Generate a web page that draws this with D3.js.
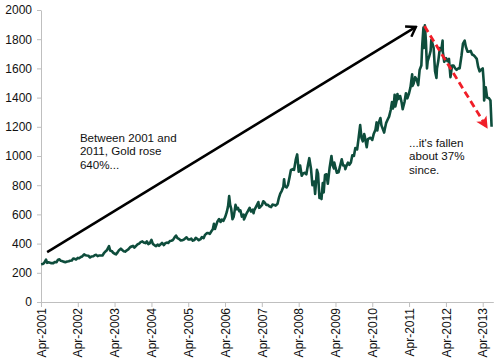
<!DOCTYPE html>
<html><head><meta charset="utf-8">
<script src="https://cdn.jsdelivr.net/npm/d3@7"></script>
<style>
body{margin:0;background:#fff;}
svg text{font-family:"Liberation Sans",Arial,sans-serif;}
</style>
</head><body>
<svg id="chart" width="500" height="363"></svg>
<script>
// ---- data (gold price, USD/oz) ----
const dates = [
"2001-04-02","2001-04-16","2001-05-01","2001-05-21","2001-06-01","2001-06-15","2001-07-02","2001-07-16","2001-08-01","2001-08-15","2001-09-03","2001-09-17","2001-10-01","2001-10-15","2001-11-01","2001-11-15","2001-12-03","2001-12-17",
"2002-01-02","2002-01-15","2002-02-01","2002-02-15","2002-03-01","2002-03-15","2002-04-01","2002-04-15","2002-05-01","2002-05-15","2002-06-03","2002-06-17","2002-07-01","2002-07-15","2002-08-01","2002-08-15","2002-09-02","2002-09-16","2002-10-01","2002-10-15","2002-11-01","2002-11-15","2002-12-02","2002-12-16",
"2003-01-02","2003-01-15","2003-02-05","2003-02-17","2003-03-03","2003-03-17","2003-04-01","2003-04-15","2003-05-01","2003-05-15","2003-06-02","2003-06-16","2003-07-01","2003-07-15","2003-08-01","2003-08-15","2003-09-02","2003-09-16","2003-10-01","2003-10-15","2003-11-03","2003-11-17","2003-12-01","2003-12-15",
"2004-01-02","2004-01-15","2004-02-02","2004-02-16","2004-03-01","2004-03-15","2004-04-01","2004-04-15","2004-05-03","2004-05-17","2004-06-01","2004-06-15","2004-07-01","2004-07-15","2004-08-02","2004-08-16","2004-09-01","2004-09-15","2004-10-01","2004-10-15","2004-11-01","2004-11-15","2004-12-01","2004-12-15",
"2005-01-03","2005-01-17","2005-02-01","2005-02-15","2005-03-01","2005-03-15","2005-04-01","2005-04-15","2005-05-02","2005-05-16","2005-06-01","2005-06-15","2005-07-01","2005-07-15","2005-08-01","2005-08-15","2005-09-01","2005-09-15","2005-10-03","2005-10-17","2005-11-01","2005-11-15","2005-12-01","2005-12-12","2005-12-22",
"2006-01-03","2006-01-16","2006-02-01","2006-02-15","2006-03-01","2006-03-15","2006-04-03","2006-04-18","2006-05-01","2006-05-12","2006-05-22","2006-06-01","2006-06-14","2006-06-26","2006-07-03","2006-07-14","2006-07-28","2006-08-07","2006-08-21","2006-09-01","2006-09-15","2006-10-02","2006-10-06","2006-10-16","2006-11-01","2006-11-15","2006-12-01","2006-12-15",
"2007-01-02","2007-01-09","2007-01-15","2007-02-01","2007-02-26","2007-03-05","2007-03-15","2007-04-02","2007-04-16","2007-05-01","2007-05-15","2007-06-01","2007-06-15","2007-07-02","2007-07-16","2007-08-01","2007-08-16","2007-09-04","2007-09-17","2007-10-01","2007-10-15","2007-11-01","2007-11-08","2007-11-15","2007-12-03","2007-12-17",
"2008-01-02","2008-01-15","2008-02-01","2008-02-15","2008-03-03","2008-03-17","2008-03-26","2008-04-01","2008-04-15","2008-05-01","2008-05-15","2008-06-02","2008-06-16","2008-07-01","2008-07-15","2008-08-01","2008-08-15","2008-09-01","2008-09-11","2008-09-29","2008-10-10","2008-10-24","2008-11-03","2008-11-13","2008-11-26","2008-12-05","2008-12-18",
"2009-01-02","2009-01-15","2009-02-02","2009-02-20","2009-03-02","2009-03-17","2009-03-20","2009-04-01","2009-04-15","2009-05-01","2009-05-15","2009-06-02","2009-06-16","2009-07-01","2009-07-08","2009-07-15","2009-08-03","2009-08-17","2009-09-01","2009-09-15","2009-10-01","2009-10-15","2009-11-02","2009-11-16","2009-12-02","2009-12-15","2009-12-28",
"2010-01-11","2010-01-15","2010-02-05","2010-02-16","2010-03-01","2010-03-15","2010-04-01","2010-04-15","2010-05-03","2010-05-14","2010-05-21","2010-06-01","2010-06-21","2010-07-01","2010-07-28","2010-08-02","2010-08-16","2010-09-01","2010-09-15","2010-10-01","2010-10-14","2010-10-22","2010-11-01","2010-11-09","2010-11-16","2010-12-01","2010-12-07","2010-12-15","2010-12-31",
"2011-01-03","2011-01-18","2011-01-28","2011-02-15","2011-03-01","2011-03-15","2011-04-01","2011-04-15","2011-05-02","2011-05-05","2011-05-16","2011-06-01","2011-06-15","2011-07-01","2011-07-15","2011-08-01","2011-08-10","2011-08-22","2011-08-25","2011-09-05","2011-09-15","2011-09-26","2011-10-03","2011-10-17","2011-11-01","2011-11-08","2011-11-15","2011-12-01","2011-12-15","2011-12-29",
"2012-01-03","2012-01-16","2012-02-01","2012-02-15","2012-02-28","2012-03-01","2012-03-15","2012-04-02","2012-04-16","2012-05-01","2012-05-16","2012-06-01","2012-06-15","2012-07-02","2012-07-16","2012-08-01","2012-08-15","2012-09-03","2012-09-17","2012-10-04","2012-10-15","2012-11-01","2012-11-15","2012-12-03","2012-12-17",
"2013-01-02","2013-01-15","2013-02-01","2013-02-15","2013-03-01","2013-03-15","2013-04-01","2013-04-12","2013-04-15","2013-04-22","2013-05-01","2013-05-15","2013-06-03","2013-06-17","2013-06-28"
];
const prices = [
258,260,266,290,268,272,268,266,266,274,273,290,292,282,279,275,273,277,
279,283,284,298,296,291,302,300,308,312,326,320,318,317,305,312,313,320,323,314,319,318,319,334,
347,355,382,352,350,338,330,326,340,355,365,356,348,345,354,360,375,380,384,373,386,396,400,410,
415,408,403,415,397,402,425,398,388,382,393,385,395,405,390,402,407,404,418,420,425,441,455,437,
430,422,423,427,435,443,428,428,434,420,425,440,432,423,430,445,438,460,472,472,467,483,498,536,500,
525,552,568,548,565,555,583,615,655,725,665,640,567,585,614,665,635,645,622,627,585,599,565,580,607,624,645,620,
632,608,627,650,685,645,650,663,690,680,665,665,655,650,667,665,660,673,712,743,760,790,841,795,785,803,
857,905,910,905,975,1011,940,893,935,865,880,885,875,935,985,913,800,825,740,905,880,712,740,705,815,750,870,
875,810,920,1000,940,915,955,920,885,888,925,978,935,935,910,925,955,940,955,1005,1000,1055,1045,1120,1212,1125,1100,
1150,1140,1060,1115,1120,1125,1110,1150,1180,1230,1175,1220,1260,1210,1160,1180,1225,1250,1270,1315,1370,1325,1350,1420,1340,1385,1425,1390,1410,
1410,1365,1320,1370,1430,1395,1430,1470,1560,1480,1495,1540,1525,1485,1590,1620,1760,1880,1740,1895,1790,1600,1650,1680,1720,1795,1780,1740,1580,1535,
1600,1650,1740,1725,1790,1715,1645,1670,1650,1665,1540,1620,1620,1600,1590,1600,1600,1690,1770,1790,1750,1715,1715,1720,1695,
1690,1680,1665,1610,1580,1590,1600,1500,1380,1420,1470,1400,1395,1380,1200
];
const xTickDates = ["2001-04-01","2002-04-01","2003-04-01","2004-04-01","2005-04-01","2006-04-01","2007-04-01","2008-04-01","2009-04-01","2010-04-01","2011-04-01","2012-04-01","2013-04-01"];
const xDomain = ["2001-04-01","2013-07-15"];
const yTicks = [0,200,400,600,800,1000,1200,1400,1600,1800,2000];
const riseArrow = [["2001-06-01",342],["2011-06-08",1884]];
const fallArrow = [["2011-09-01",1890],["2013-05-15",1192]];
const riseText = {at:["2002-04-22",1096], lines:["Between 2001 and","2011, Gold rose","640%..."]};
const fallText = {at:["2011-04-01",1062], lines:["...it's fallen","about 37%","since."]};

// ---- drawing ----
const parse = d3.timeParse("%Y-%m-%d");
const series = dates.map((d,i)=>({date:parse(d), v:prices[i]}));
const svg = d3.select("#chart");

const x = d3.scaleTime().domain(xDomain.map(parse)).range([41, 493.3]);
const y = d3.scaleLinear().domain([0,2000]).range([302, 10]);

const axisCol = "#bfbfbf";

// y axis
const gy = svg.append("g").attr("transform","translate(41,0)")
  .call(d3.axisLeft(y).tickValues(yTicks).tickFormat(d3.format("d")).tickSize(4).tickSizeOuter(0).tickPadding(5));
gy.select(".domain").attr("stroke", axisCol);
gy.selectAll(".tick line").attr("stroke", axisCol);
gy.selectAll("text").attr("font-size", 12).attr("fill","#111").attr("font-family","Liberation Sans, Arial, sans-serif");

// x axis
const gx = svg.append("g").attr("transform","translate(0,302)")
  .call(d3.axisBottom(x).tickValues(xTickDates.map(parse)).tickFormat(d3.timeFormat("Apr-%Y")).tickSize(5).tickSizeOuter(0));
gx.select(".domain").attr("stroke", axisCol);
gx.selectAll(".tick line").attr("stroke", axisCol);
gx.selectAll("text").attr("font-size", 12).attr("fill","#111").attr("font-family","Liberation Sans, Arial, sans-serif")
  .attr("transform","rotate(-90)").attr("text-anchor","end").attr("x",-6).attr("y",0).attr("dy","0.35em");

// price line
svg.append("path").datum(series)
  .attr("fill","none").attr("stroke","#0e4d3c").attr("stroke-width",2.6).attr("stroke-linejoin","round")
  .attr("d", d3.line().x(d=>x(d.date)).y(d=>y(d.v)));

// markers
const defs = svg.append("defs");
defs.append("marker").attr("id","openArrow").attr("markerUnits","userSpaceOnUse")
  .attr("viewBox","0 0 14 14").attr("markerWidth",14).attr("markerHeight",14).attr("refX",12).attr("refY",7).attr("orient","auto")
  .append("path").attr("d","M3,1 L12,7 L3,13").attr("fill","none").attr("stroke","#000").attr("stroke-width",2.4);
defs.append("marker").attr("id","redArrow").attr("markerUnits","userSpaceOnUse")
  .attr("viewBox","0 0 14 14").attr("markerWidth",14).attr("markerHeight",14).attr("refX",12).attr("refY",7).attr("orient","auto")
  .append("path").attr("d","M1,1 L13,7 L1,13 L4,7 Z").attr("fill","#f01e28");

function pt(p){ return [x(parse(p[0])), y(p[1])]; }
const r0 = pt(riseArrow[0]), r1 = pt(riseArrow[1]);
svg.append("line").attr("x1",r0[0]).attr("y1",r0[1]).attr("x2",r1[0]).attr("y2",r1[1])
  .attr("stroke","#000").attr("stroke-width",2.5).attr("marker-end","url(#openArrow)");
const f0 = pt(fallArrow[0]), f1 = pt(fallArrow[1]);
svg.append("line").attr("x1",f0[0]).attr("y1",f0[1]).attr("x2",f1[0]).attr("y2",f1[1])
  .attr("stroke","#f01e28").attr("stroke-width",2.8).attr("stroke-dasharray","7,4").attr("marker-end","url(#redArrow)");

function note(t){
  const p = pt(t.at);
  const tx = svg.append("text").attr("x",p[0]).attr("y",p[1]).attr("font-size",11.6).attr("fill","#111");
  t.lines.forEach((l,i)=>tx.append("tspan").attr("x",p[0]).attr("dy", i===0?0:13.5).text(l));
}
note(riseText);
note(fallText);
</script>
</body></html>
